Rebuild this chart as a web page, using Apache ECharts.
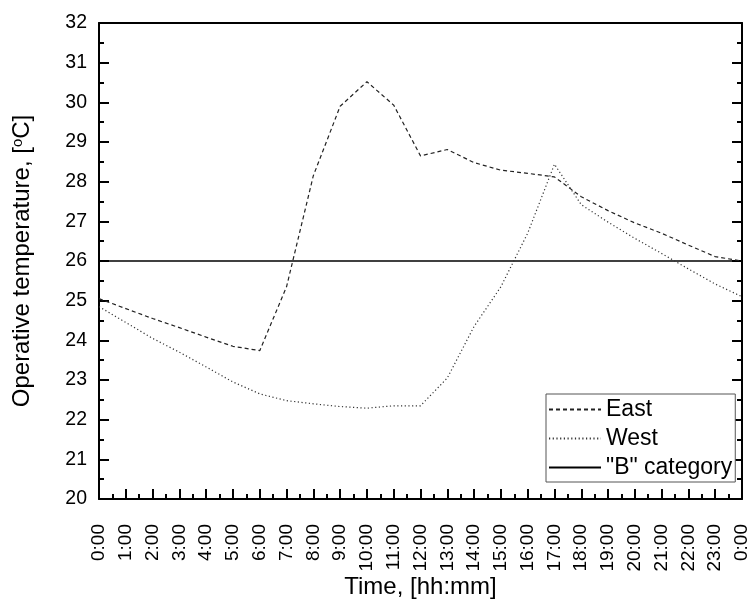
<!DOCTYPE html>
<html>
<head>
<meta charset="utf-8">
<script src="https://cdn.jsdelivr.net/npm/echarts@6/dist/echarts.min.js"></script>
<style>
  html, body { margin: 0; padding: 0; background: #fff; }
  #chart { width: 751px; height: 599px; }
</style>
</head>
<body>
<div id="chart"></div>
<script>
// Hour of day (0..24), hourly samples
const hours = [0, 1, 2, 3, 4, 5, 6, 7, 8, 9, 10, 11, 12, 13, 14, 15, 16, 17, 18, 19, 20, 21, 22, 23, 24];

// Operative temperature, °C
const eastTemp = [25.05, 24.80, 24.55, 24.32, 24.08, 23.85, 23.74, 25.35, 28.15, 29.90, 30.52, 29.93, 28.65,
                  28.81, 28.48, 28.29, 28.21, 28.12, 27.62, 27.27, 26.96, 26.70, 26.40, 26.11, 26.00];
const westTemp = [24.85, 24.45, 24.05, 23.70, 23.33, 22.95, 22.65, 22.48, 22.40, 22.33, 22.29, 22.35, 22.35,
                  23.05, 24.35, 25.35, 26.70, 28.44, 27.42, 26.98, 26.57, 26.19, 25.80, 25.42, 25.10];

// "B" category comfort limit
const limitHours = [0, 24];
const limitTemp = [26, 26];

const seriesNames = ['East', 'West', '"B" category'];

const pairs = (xs, ys) => xs.map((x, i) => [x, ys[i]]);

const font = 'Liberation Sans, Arial, sans-serif';

const chart = echarts.init(document.getElementById('chart'), null, { renderer: 'canvas' });

chart.setOption({
  animation: false,
  backgroundColor: '#fff',
  grid: { left: 99, right: 9, top: 23, bottom: 100, containLabel: false, outerBoundsMode: 'none' },
  legend: {
    orient: 'vertical',
    left: 546,
    top: 394,
    data: seriesNames,
    itemWidth: 52,
    itemHeight: 14,
    itemGap: 6,
    padding: [4, 3, 3, 2],
    borderColor: '#555',
    borderWidth: 1,
    backgroundColor: '#fff',
    itemStyle: { opacity: 0 },
    textStyle: { fontFamily: font, fontSize: 23, color: '#000' }
  },
  xAxis: [{
    type: 'value',
    min: 0, max: 24, interval: 1,
    position: 'bottom',
    name: 'Time, [hh:mm]',
    nameLocation: 'middle',
    nameGap: 76,
    nameMoveOverlap: false,
    nameTextStyle: { fontFamily: font, fontSize: 24, color: '#000' },
    axisLine: { show: true, onZero: false, lineStyle: { color: '#000', width: 2 } },
    axisTick: { show: true, inside: true, length: 10, lineStyle: { color: '#000', width: 2 } },
    minorTick: { show: true, splitNumber: 2, length: 5, lineStyle: { color: '#000', width: 2 } },
    splitLine: { show: false },
    axisLabel: {
      rotate: 90, margin: 25,
      fontFamily: font, fontSize: 19, color: '#000',
      formatter: v => (v % 24) + ':00'
    }
  }, {
    type: 'value',
    min: 0, max: 24, interval: 1,
    position: 'top',
    axisLine: { show: true, onZero: false, lineStyle: { color: '#000', width: 2 } },
    axisTick: { show: false },
    axisLabel: { show: false },
    splitLine: { show: false }
  }],
  yAxis: [{
    type: 'value',
    min: 20, max: 32, interval: 1,
    position: 'left',
    name: 'Operative temperature, [{sup|o}C]',
    nameLocation: 'middle',
    nameGap: 65,
    nameMoveOverlap: false,
    nameTextStyle: {
      fontFamily: font, fontSize: 24, color: '#000',
      rich: { sup: { fontFamily: font, fontSize: 15, color: '#000', verticalAlign: 'top', padding: [0, 0, 9, 0] } }
    },
    axisLine: { show: true, onZero: false, lineStyle: { color: '#000', width: 2 } },
    axisTick: { show: true, inside: true, length: 10, lineStyle: { color: '#000', width: 2 } },
    minorTick: { show: true, splitNumber: 2, length: 5, lineStyle: { color: '#000', width: 2 } },
    splitLine: { show: false },
    axisLabel: { margin: 12, fontFamily: font, fontSize: 19.5, color: '#000' }
  }, {
    type: 'value',
    min: 20, max: 32, interval: 1,
    position: 'right',
    axisLine: { show: true, onZero: false, lineStyle: { color: '#000', width: 2 } },
    axisTick: { show: true, inside: true, length: 10, lineStyle: { color: '#000', width: 2 } },
    minorTick: { show: true, splitNumber: 2, length: 5, lineStyle: { color: '#000', width: 2 } },
    axisLabel: { show: false },
    splitLine: { show: false }
  }],
  series: [{
    name: seriesNames[0],
    type: 'line',
    data: pairs(hours, eastTemp),
    symbol: 'none',
    color: '#222',
    lineStyle: { color: '#222', width: 1.2, type: [4, 3] },
    z: 3
  }, {
    name: seriesNames[1],
    type: 'line',
    data: pairs(hours, westTemp),
    symbol: 'none',
    color: '#333',
    lineStyle: { color: '#333', width: 1.2, type: [1.2, 2.5] },
    z: 3
  }, {
    name: seriesNames[2],
    type: 'line',
    data: pairs(limitHours, limitTemp),
    symbol: 'none',
    color: '#000',
    lineStyle: { color: '#000', width: 1.5, type: 'solid' },
    z: 2
  }]
});
</script>
</body>
</html>
